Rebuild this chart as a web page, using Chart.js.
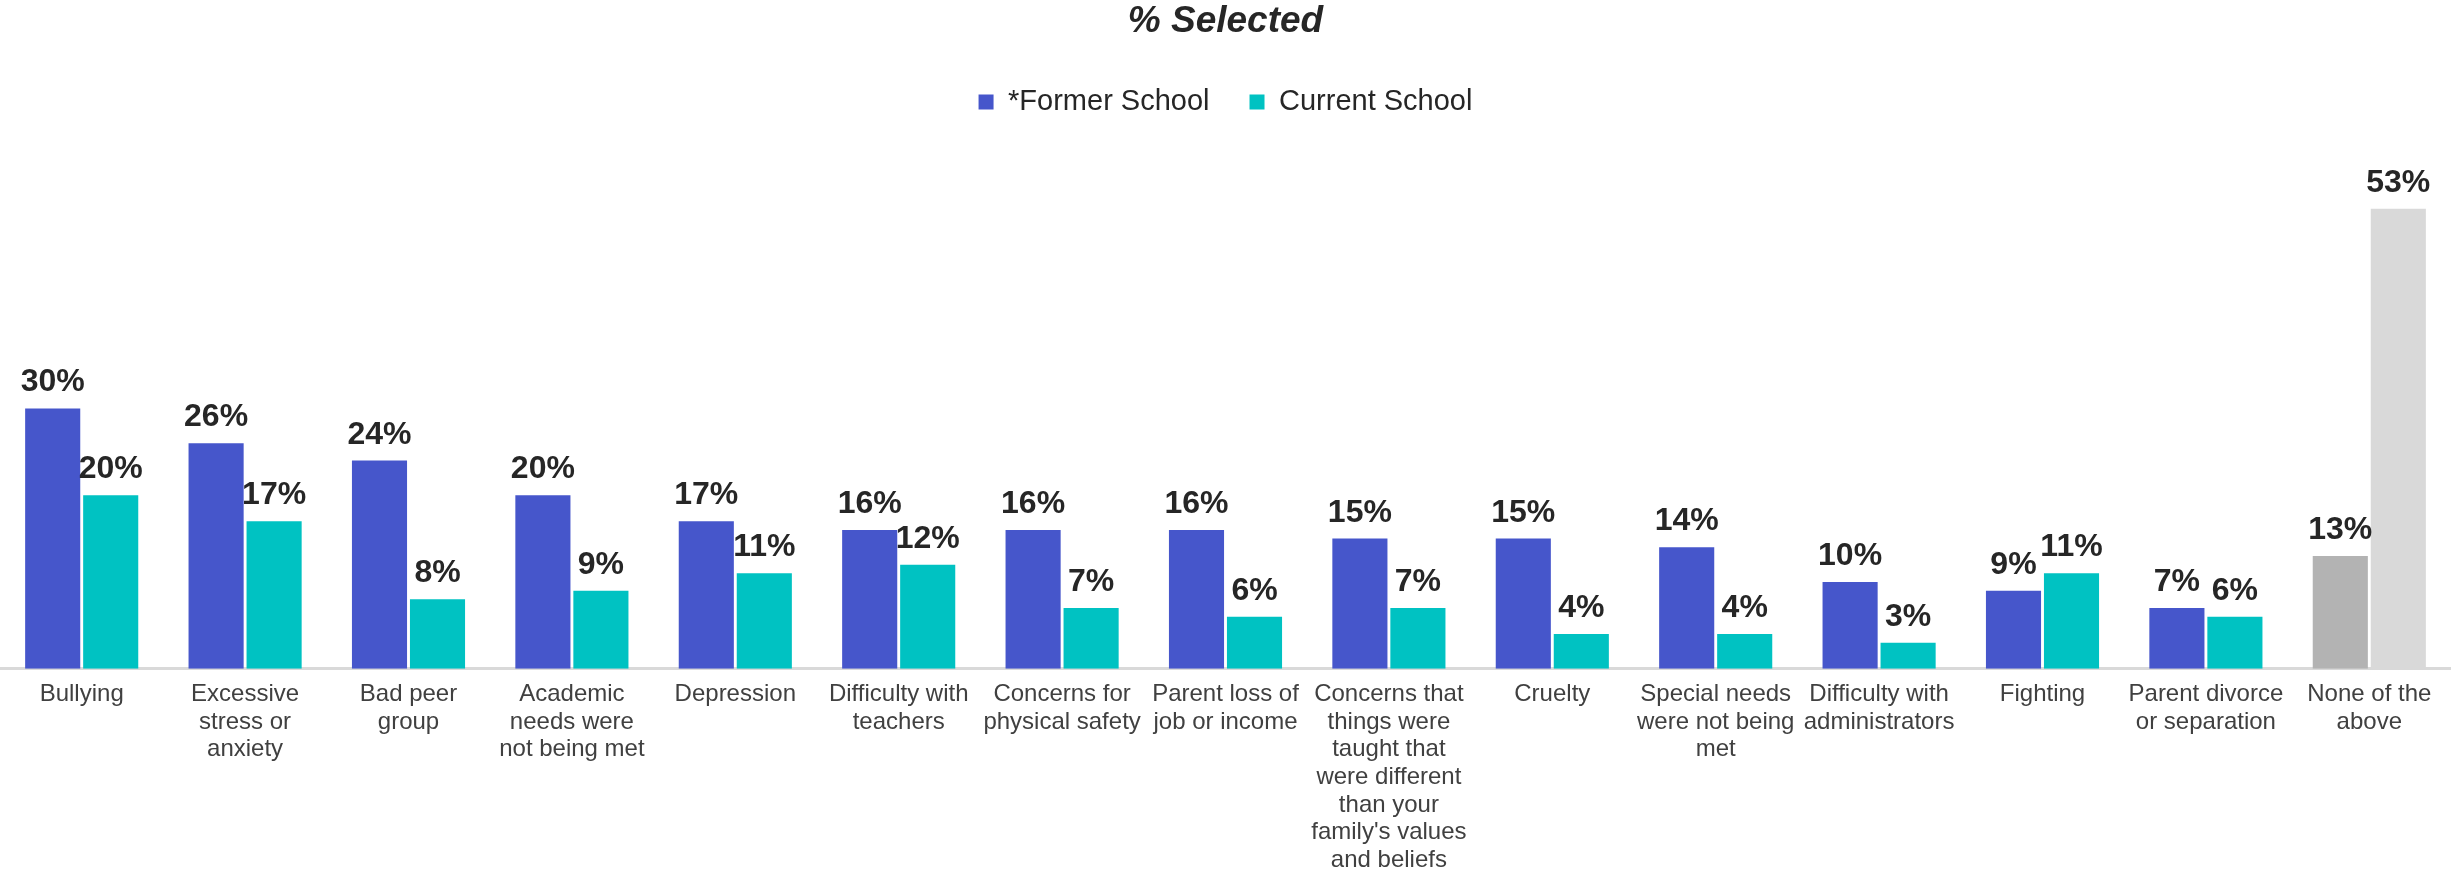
<!DOCTYPE html>
<html>
<head>
<meta charset="utf-8">
<script src="https://cdn.jsdelivr.net/npm/chart.js@4.4.0/dist/chart.umd.min.js"></script>
<style>
  body { margin: 0; background: #fff; }
  #wrap { width: 2451px; height: 872px; }
</style>
</head>
<body>
<div id="wrap"><canvas id="reasonsChart"></canvas></div>
<script>
// categories (wrapped into lines like the original)
const categories = [
    ['Bullying'],
    ['Excessive', 'stress or', 'anxiety'],
    ['Bad peer', 'group'],
    ['Academic', 'needs were', 'not being met'],
    ['Depression'],
    ['Difficulty with', 'teachers'],
    ['Concerns for', 'physical safety'],
    ['Parent loss of', 'job or income'],
    ['Concerns that', 'things were', 'taught that', 'were different', 'than your', "family's values", 'and beliefs'],
    ['Cruelty'],
    ['Special needs', 'were not being', 'met'],
    ['Difficulty with', 'administrators'],
    ['Fighting'],
    ['Parent divorce', 'or separation'],
    ['None of the', 'above']
];

const formerSchool = [30, 26, 24, 20, 17, 16, 16, 16, 15, 15, 14, 10, 9, 7, 13];
const currentSchool = [20, 17, 8, 9, 11, 12, 7, 6, 7, 4, 4, 3, 11, 6, 53];

// last group ("None of the above") is shown in greys
const formerColors = formerSchool.map((v, i) => i === formerSchool.length - 1 ? '#b3b3b3' : '#4656cb');
const currentColors = currentSchool.map((v, i) => i === currentSchool.length - 1 ? '#d9d9d9' : '#00c2c2');

// simple value labels above each bar
const barLabels = {
    id: 'barLabels',
    afterDatasetsDraw(chart) {
        const ctx = chart.ctx;
        ctx.save();
        ctx.font = 'bold 32px "Liberation Sans", Arial, sans-serif';
        ctx.fillStyle = '#262626';
        ctx.textAlign = 'center';
        ctx.textBaseline = 'alphabetic';
        chart.data.datasets.forEach((ds, di) => {
            chart.getDatasetMeta(di).data.forEach((bar, i) => {
                ctx.fillText(ds.data[i] + '%', bar.x, bar.y - 17);
            });
        });
        ctx.restore();
    }
};

const ctx = document.getElementById('reasonsChart').getContext('2d');
const reasonsChart = new Chart(ctx, {
    type: 'bar',
    data: {
        labels: categories,
        datasets: [
            { label: '*Former School', data: formerSchool, backgroundColor: formerColors },
            { label: 'Current School', data: currentSchool, backgroundColor: currentColors }
        ]
    },
    options: {
        responsive: true,
        maintainAspectRatio: false,
        animation: false,
        devicePixelRatio: 1,
        categoryPercentage: 0.71,
        barPercentage: 0.95,
        layout: { padding: { top: 0, left: 0, right: 0, bottom: -14 } },
        plugins: {
            title: {
                display: true,
                text: '% Selected',
                color: '#262626',
                font: { family: '"Liberation Sans", Arial, sans-serif', size: 37, weight: 'bold', style: 'italic' },
                padding: { top: 0, bottom: 3 }
            },
            legend: {
                labels: {
                    color: '#262626',
                    font: { family: '"Liberation Sans", Arial, sans-serif', size: 29 },
                    boxWidth: 15,
                    boxHeight: 15,
                    padding: 40
                }
            },
            tooltip: { enabled: false }
        },
        scales: {
            x: {
                grid: { display: false, drawTicks: false },
                border: { display: true, color: '#d9d9d9', width: 3 },
                ticks: {
                    color: '#404040',
                    font: { family: '"Liberation Sans", Arial, sans-serif', size: 24, lineHeight: 1.15 },
                    padding: 12,
                    maxRotation: 0,
                    autoSkip: false
                }
            },
            y: {
                display: false,
                min: 0,
                max: 62.5
            }
        }
    },
    plugins: [barLabels]
});
</script>
</body>
</html>
